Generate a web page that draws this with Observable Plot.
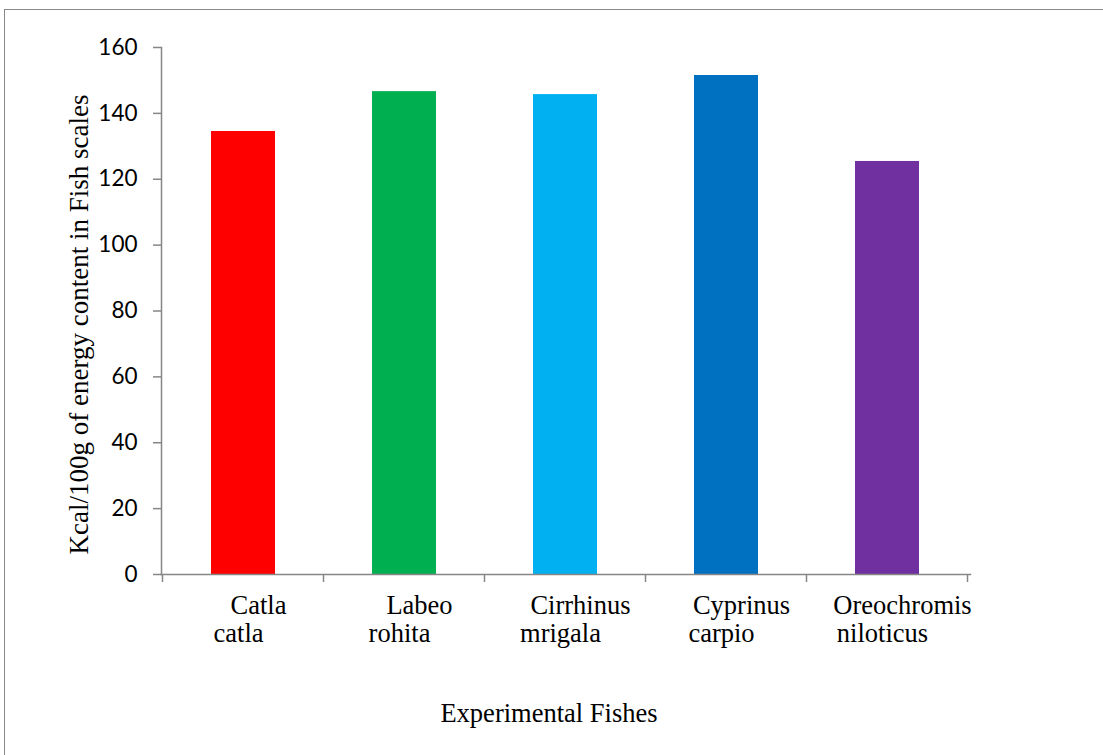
<!DOCTYPE html>
<html>
<head>
<meta charset="utf-8">
<script src="https://cdn.jsdelivr.net/npm/d3@7"></script>
<script src="https://cdn.jsdelivr.net/npm/@observablehq/plot@0.6"></script>
<style>
  body { margin: 0; background: #fff; }
  #chart { position: relative; width: 1103px; height: 755px; overflow: hidden; }
  #border { position: absolute; left: 4px; top: 9px; width: 1200px; height: 900px;
            border: 1.5px solid #888; box-sizing: border-box; }
  #chart svg { position: absolute; left: 0; top: 0; }
</style>
</head>
<body>
<div id="chart"><div id="border"></div></div>
<script>
// Energy content of fish scales (Kcal/100g) for five experimental fishes
const fishes = ["Catla catla", "Labeo rohita", "Cirrhinus mrigala", "Cyprinus carpio", "Oreochromis niloticus"];
const nameLine1 = ["Catla", "Labeo", "Cirrhinus", "Cyprinus", "Oreochromis"];
const nameLine2 = ["catla", "rohita", "mrigala", "carpio", "niloticus"];
const energy = [134.5, 146.6, 145.7, 151.5, 125.4];
const barColors = ["#ff0000", "#00b050", "#00b0f0", "#0070c0", "#7030a0"];
const yTicks = [0, 20, 40, 60, 80, 100, 120, 140, 160];
const yLabel = "Kcal/100g of energy content in Fish scales";
const xLabel = "Experimental Fishes";

const rows = fishes.map((f, i) => ({fish: f, line1: nameLine1[i], line2: nameLine2[i], energy: energy[i]}));

const serif = "'Liberation Serif', 'Times New Roman', serif";
const sans = "Lato, 'Open Sans', sans-serif";
const axisGray = "#868686";

const plot = Plot.plot({
  width: 1103,
  height: 755,
  marginLeft: 161,
  marginRight: 133,
  marginTop: 47,
  marginBottom: 181,
  style: {background: "transparent", overflow: "visible"},
  x: {domain: fishes, paddingInner: 0.6, paddingOuter: 0.3, axis: null},
  y: {domain: [0, 160], axis: null},
  color: {domain: fishes, range: barColors},
  marks: [
    Plot.barY(rows, {x: "fish", y: "energy", fill: "fish"}),
    // value axis with its line, ticks and labels
    Plot.frame({anchor: "left", stroke: axisGray, strokeWidth: 1.5}),
    Plot.axisY({ticks: yTicks, tickSize: 8, tickPadding: 16, stroke: axisGray, strokeWidth: 1.5,
                fill: "black", fontSize: 22.5, fontFamily: sans, label: null}),
    // category baseline
    Plot.frame({anchor: "bottom", stroke: axisGray, strokeWidth: 1.5}),
    // two-line category names
    Plot.text(rows, {x: "fish", y: 0, text: "line1", dy: 31.5, dx: 15, fontSize: 26.5, fontFamily: serif, fill: "black"}),
    Plot.text(rows, {x: "fish", y: 0, text: "line2", dy: 59.5, dx: -5, fontSize: 26.5, fontFamily: serif, fill: "black"}),
    // axis titles
    Plot.text([yLabel], {frameAnchor: "left", textAnchor: "middle", rotate: -90, dx: -82, dy: 13.5,
                         fontSize: 27, fontFamily: serif, fill: "black"}),
    Plot.text([xLabel], {frameAnchor: "bottom", textAnchor: "middle", dx: -17, dy: 147.5,
                         fontSize: 26.5, fontFamily: serif, fill: "black"})
  ]
});

// tick marks on the category axis sit at the band boundaries
const sx = plot.scale("x");
const sy = plot.scale("y");
const gap = sx.step - sx.bandwidth;
const edges = fishes.map(f => sx.apply(f) - gap / 2);
edges.push(sx.apply(fishes[fishes.length - 1]) + sx.bandwidth + gap / 2);
const y0 = sy.apply(0);
d3.select(plot).append("g")
  .attr("stroke", axisGray)
  .attr("stroke-width", 1.5)
  .selectAll("line")
  .data(edges)
  .join("line")
  .attr("x1", d => d).attr("x2", d => d)
  .attr("y1", y0).attr("y2", y0 + 8);

document.getElementById("chart").appendChild(plot);
</script>
</body>
</html>
